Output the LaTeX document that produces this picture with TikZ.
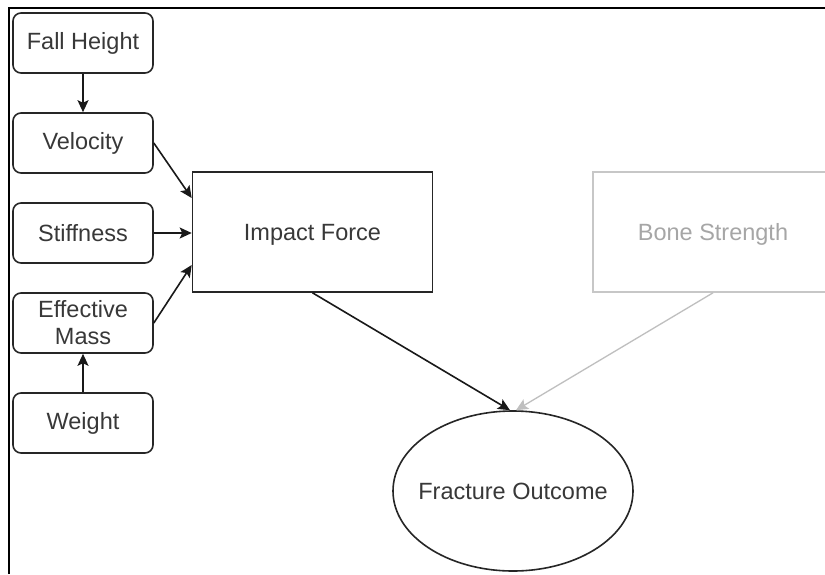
\documentclass[tikz,border=0pt]{standalone}
\usepackage{fontspec}
\setmainfont{Liberation Sans}
\usetikzlibrary{arrows.meta,shapes.geometric}
\begin{document}
\begin{tikzpicture}[x=1pt,y=-1pt,
  txt/.style={font=\fontsize{23.5}{27}\selectfont, text=black!78},
  factor/.style={txt, draw=black!85, line width=1.6pt, rounded corners=8pt,
    minimum width=140pt, minimum height=60pt, inner sep=0pt, align=center},
  bigbox/.style={txt, draw=black!85, line width=1.6pt, text height=21pt, text depth=5pt,
    minimum width=240pt, minimum height=120pt, inner sep=0pt},
  faded/.style={bigbox, draw=black!22, text=black!35},
  outcome/.style={ellipse, draw=black!85, line width=1.6pt,
    minimum width=240pt, minimum height=160pt, inner sep=0pt},
  link/.style={draw=black!90, line width=1.6pt,
    -{Stealth[length=12pt,width=11pt,inset=2.5pt]}},
  weaklink/.style={draw=black!25, line width=1.3pt,
    -{Stealth[length=12pt,width=11pt,inset=2.5pt]}}
]
\useasboundingbox (0,0) rectangle (825,574);
\clip (0,0) rectangle (825,574);
\fill[white] (0,0) rectangle (825,574);

% frame edges
\draw[line width=2pt, black] (9,574) -- (9,7.7) -- (825,7.7);

% input factors
\node[factor] (fall)  at (83,43)  {Fall Height};
\node[factor] (vel)   at (83,143) {Velocity};
\node[factor] (stiff) at (83,233) {Stiffness};
\node[factor] (mass)  at (83,323) {Effective\\Mass};
\node[factor] (wgt)   at (83,423) {Weight};

% main boxes
\node[bigbox] (imp)  at (312.5,232) {Impact Force};
\node[faded]  (bone) at (713,232)   {Bone Strength};
\node[outcome] (frac) at (513,491)  {};
\node[txt] (fractext) at (frac.center) {Fracture Outcome};

% connectors
\draw[link] (fall.south) -- (vel.north);
\draw[link] (wgt.north) -- (mass.south);
\draw[link] (vel.east) -- ([yshift=34pt]imp.west);
\draw[link] (stiff.east) -- ([yshift=-1pt]imp.west);
\draw[link] (mass.east) -- ([yshift=-33pt]imp.west);
\draw[link] (imp.south) -- ([xshift=-3pt]frac.north);
\draw[weaklink] (bone.south) -- ([xshift=3pt]frac.north);
\end{tikzpicture}
\end{document}
